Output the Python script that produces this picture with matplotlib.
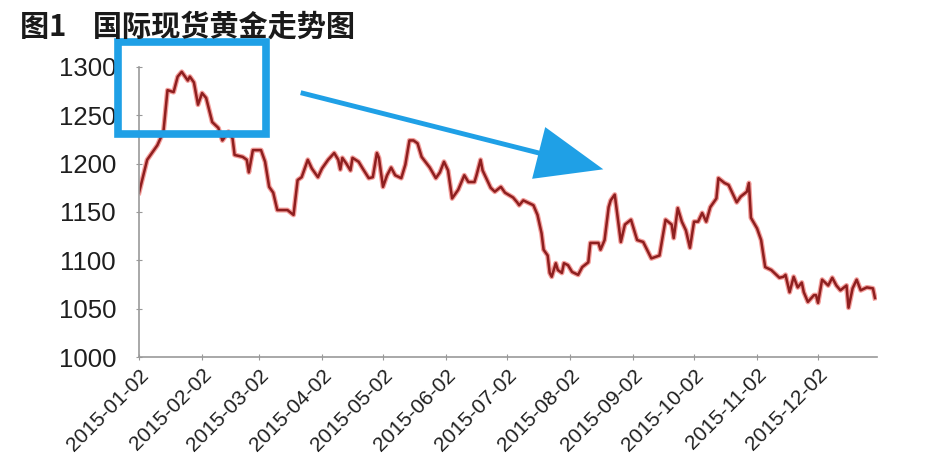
import matplotlib.pyplot as plt
from matplotlib.patches import Rectangle, FancyArrowPatch
import pandas as pd

plt.rcParams['font.family'] = ['Liberation Sans', 'Noto Sans CJK SC', 'DejaVu Sans']

# spot gold (USD/oz)
dates = ["2015-01-02", "2015-01-06", "2015-01-11", "2015-01-14", "2015-01-16",
         "2015-01-19", "2015-01-21", "2015-01-23", "2015-01-26", "2015-01-27",
         "2015-01-29", "2015-01-31", "2015-02-02", "2015-02-04", "2015-02-07",
         "2015-02-10", "2015-02-12", "2015-02-15", "2015-02-17", "2015-02-18",
         "2015-02-22", "2015-02-24", "2015-02-25", "2015-02-27", "2015-03-03",
         "2015-03-05", "2015-03-07", "2015-03-09", "2015-03-11", "2015-03-16",
         "2015-03-19", "2015-03-21", "2015-03-23", "2015-03-26", "2015-03-28",
         "2015-03-31", "2015-04-02", "2015-04-05", "2015-04-08", "2015-04-10",
         "2015-04-11", "2015-04-12", "2015-04-14", "2015-04-16", "2015-04-17",
         "2015-04-20", "2015-04-22", "2015-04-25", "2015-04-27", "2015-04-29",
         "2015-04-30", "2015-05-02", "2015-05-04", "2015-05-06", "2015-05-08",
         "2015-05-11", "2015-05-13", "2015-05-15", "2015-05-17", "2015-05-19",
         "2015-05-21", "2015-05-25", "2015-05-28", "2015-05-30", "2015-06-01",
         "2015-06-03", "2015-06-05", "2015-06-08", "2015-06-11", "2015-06-13",
         "2015-06-16", "2015-06-17", "2015-06-19", "2015-06-20", "2015-06-24",
         "2015-06-26", "2015-06-29", "2015-07-01", "2015-07-05", "2015-07-07",
         "2015-07-08", "2015-07-10", "2015-07-13", "2015-07-15", "2015-07-17",
         "2015-07-19", "2015-07-20", "2015-07-22", "2015-07-23", "2015-07-24",
         "2015-07-26", "2015-07-27", "2015-07-29", "2015-07-30", "2015-08-01",
         "2015-08-03", "2015-08-06", "2015-08-08", "2015-08-11", "2015-08-12",
         "2015-08-16", "2015-08-17", "2015-08-19", "2015-08-21", "2015-08-22",
         "2015-08-24", "2015-08-27", "2015-08-29", "2015-09-01", "2015-09-04",
         "2015-09-07", "2015-09-11", "2015-09-15", "2015-09-18", "2015-09-21",
         "2015-09-22", "2015-09-24", "2015-09-26", "2015-09-28", "2015-09-30",
         "2015-10-02", "2015-10-04", "2015-10-06", "2015-10-08", "2015-10-10",
         "2015-10-13", "2015-10-14", "2015-10-17", "2015-10-19", "2015-10-23",
         "2015-10-25", "2015-10-28", "2015-10-29", "2015-10-30", "2015-11-02",
         "2015-11-04", "2015-11-06", "2015-11-09", "2015-11-13", "2015-11-15",
         "2015-11-16", "2015-11-18", "2015-11-20", "2015-11-22", "2015-11-24",
         "2015-11-25", "2015-11-27", "2015-11-30", "2015-12-01", "2015-12-02",
         "2015-12-04", "2015-12-07", "2015-12-09", "2015-12-11", "2015-12-13",
         "2015-12-16", "2015-12-17", "2015-12-19", "2015-12-21", "2015-12-23",
         "2015-12-26", "2015-12-29", "2015-12-30"]

prices = [1170, 1204, 1219, 1233, 1276,
          1274, 1290, 1295, 1286, 1290,
          1284, 1261, 1273, 1268, 1243,
          1237, 1224, 1233, 1226, 1209,
          1207, 1204, 1191, 1214, 1214,
          1202, 1176, 1170, 1152, 1152,
          1147, 1183, 1186, 1204, 1195,
          1186, 1195, 1204, 1211, 1204,
          1194, 1206, 1200, 1193, 1206,
          1202, 1195, 1185, 1186, 1211,
          1206, 1176, 1188, 1196, 1188,
          1185, 1199, 1224, 1224, 1221,
          1207, 1196, 1185, 1191, 1202,
          1193, 1164, 1173, 1188, 1181,
          1181, 1188, 1204, 1193, 1175,
          1171, 1176, 1170, 1165, 1160,
          1157, 1162, 1159, 1157, 1147,
          1128, 1111, 1105, 1087, 1083,
          1097, 1090, 1087, 1097, 1095,
          1088, 1085, 1093, 1098, 1118,
          1118, 1111, 1121, 1155, 1162,
          1168, 1119, 1137, 1142, 1121,
          1119, 1102, 1105, 1142, 1137,
          1123, 1154, 1140, 1131, 1113,
          1140, 1140, 1149, 1140, 1155,
          1164, 1185, 1180, 1178, 1160,
          1166, 1171, 1180, 1144, 1133,
          1121, 1093, 1090, 1082, 1083,
          1085, 1067, 1083, 1072, 1077,
          1067, 1057, 1064, 1064, 1056,
          1080, 1074, 1082, 1074, 1069,
          1074, 1051, 1071, 1080, 1069,
          1072, 1071, 1061]

tick_dates = ["2015-01-02", "2015-02-02", "2015-03-02", "2015-04-02",
              "2015-05-02", "2015-06-02", "2015-07-02", "2015-08-02",
              "2015-09-02", "2015-10-02", "2015-11-02", "2015-12-02"]
y_ticks = [1000, 1050, 1100, 1150, 1200, 1250, 1300]

x = pd.to_datetime(dates)
xt = pd.to_datetime(tick_dates)

fig = plt.figure(figsize=(9.3, 4.75), dpi=100)
ax = fig.add_axes([0.1495, 0.2484, 0.7935, 0.6106])

# soft red halo + dark core, like the screenshot
ax.plot(x, prices, color="#E8403A", linewidth=3.6, alpha=0.5, solid_joinstyle="round")
ax.plot(x, prices, color="#8E1F1F", linewidth=1.8, solid_joinstyle="round")

ax.set_ylim(1000, 1300)
ax.set_xlim(pd.Timestamp("2015-01-02"), pd.Timestamp("2015-12-31"))
ax.set_yticks(y_ticks)
ax.set_xticks(xt)
ax.set_xticklabels(tick_dates, rotation=45, ha="right", rotation_mode="anchor",
                   fontsize=15, color="#1e1e1e")
ax.tick_params(axis="y", labelsize=18.5, colors="#1e1e1e", pad=14)
ax.tick_params(axis="both", direction="inout", length=5, color="#999999")

for side in ["top", "right"]:
    ax.spines[side].set_visible(False)
for side in ["left", "bottom"]:
    ax.spines[side].set_color("#999999")
    ax.spines[side].set_linewidth(1.2)

fig.text(0.022, 0.943, "图1    国际现货黄金走势图", fontsize=21, fontweight="bold",
         family=["Noto Sans CJK SC", "DejaVu Sans"], color="#1a1a1a", va="center")

# blue highlight box and trend arrow (annotations in figure space)
blue = "#1FA0E6"
fig.patches.append(Rectangle((118 / 930, 1 - 134 / 475), 148 / 930, 92 / 475,
                             transform=fig.transFigure, fill=False,
                             edgecolor=blue, linewidth=5.5))
fig.patches.append(FancyArrowPatch((298 / 930, 1 - 92 / 475), (606 / 930, 1 - 170 / 475),
                                   transform=fig.transFigure, color=blue,
                                   arrowstyle="simple,head_length=3.0,head_width=2.4,tail_width=0.22",
                                   mutation_scale=16, linewidth=0))

fig.savefig("out.png", dpi=100)
